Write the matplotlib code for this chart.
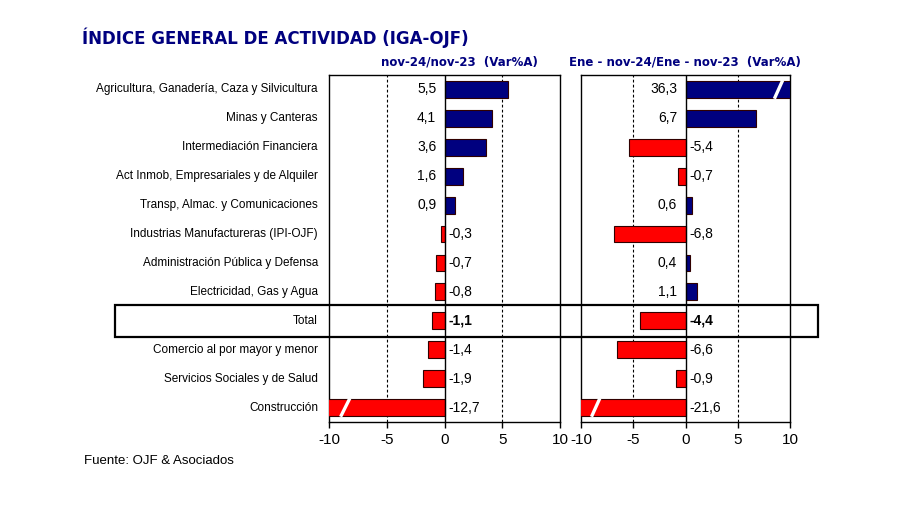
import matplotlib.pyplot as plt
import numpy as np
from matplotlib.patches import Rectangle

plt.rcParams['font.family'] = ['Liberation Sans', 'DejaVu Sans']

# data
sectores = ["Agricultura, Ganadería, Caza y Silvicultura", "Minas y Canteras",
            "Intermediación Financiera", "Act Inmob, Empresariales y de Alquiler",
            "Transp, Almac. y Comunicaciones", "Industrias Manufactureras (IPI-OJF)",
            "Administración Pública y Defensa", "Electricidad, Gas y Agua", "Total",
            "Comercio al por mayor y menor", "Servicios Sociales y de Salud", "Construcción"]
var_interanual = [5.5, 4.1, 3.6, 1.6, 0.9, -0.3, -0.7, -0.8, -1.1, -1.4, -1.9, -12.7]
var_acumulada = [36.3, 6.7, -5.4, -0.7, 0.6, -6.8, 0.4, 1.1, -4.4, -6.6, -0.9, -21.6]
xticks = [-10, -5, 0, 5, 10]

navy = '#00007F'
red = '#FF0000'
lim = 10

fig = plt.figure(figsize=(9, 5.05), dpi=100)
ax1 = fig.add_axes([0.3656, 0.1644, 0.2567, 0.687])
ax2 = fig.add_axes([0.6456, 0.1644, 0.2322, 0.687])

y = np.arange(len(sectores))


def panel(ax, vals):
    vals = np.array(vals)
    colors = [navy if v >= 0 else red for v in vals]
    ax.barh(y, vals, height=0.58, color=colors, edgecolor='#300000', linewidth=0.8, zorder=3)
    ax.set_xlim(-lim, lim)
    ax.set_ylim(len(sectores) - 0.5, -0.5)
    ax.set_xticks(xticks)
    ax.set_xticklabels([str(t) for t in xticks], fontsize=11)
    ax.tick_params(axis='x', length=4, width=1, pad=4)
    ax.set_yticks([])
    for v in [-5, 5]:
        ax.axvline(v, color='black', ls=(0, (2.5, 2)), lw=0.8, zorder=1)
    ax.axvline(0, color='black', lw=1, zorder=4)
    for s in ax.spines.values():
        s.set_linewidth(1)
    # break marks on bars beyond the axis
    for yi, v in zip(y, vals):
        if abs(v) > lim:
            xb = 8.9 if v > 0 else -8.6
            ax.plot([xb - 0.4, xb + 0.4], [yi + 0.32, yi - 0.32],
                    color='white', lw=2.4, zorder=5, solid_capstyle='butt')
    # value labels
    for yi, v in zip(y, vals):
        txt = f'{v:.1f}'.replace('.', ',')
        weight = 'bold' if sectores[yi] == 'Total' else 'normal'
        if v >= 0:
            ax.annotate(txt, (0, yi), xytext=(-6, 0), textcoords='offset points',
                        ha='right', va='center', fontsize=10, fontweight=weight, zorder=6)
        else:
            ax.annotate(txt, (0, yi), xytext=(3, 0), textcoords='offset points',
                        ha='left', va='center', fontsize=10, fontweight=weight, zorder=6)


panel(ax1, var_interanual)
panel(ax2, var_acumulada)

# category labels
for yi, name in zip(y, sectores):
    ax1.annotate(name, (0, yi), xycoords=('axes fraction', 'data'), xytext=(-8, 0),
                 textcoords='offset points', ha='right', va='center', fontsize=8.5)

# box around Total row
fig.add_artist(Rectangle((115 / 900, 1 - 337 / 505), (818 - 115) / 900, 32 / 505,
                         transform=fig.transFigure, fill=False, edgecolor='black',
                         linewidth=1.6, zorder=10))

fig.text(82 / 900, 1 - 38 / 505, 'ÍNDICE GENERAL DE ACTIVIDAD (IGA-OJF)', family='DejaVu Sans',
         fontsize=12, fontweight='bold', color=navy, va='center')
fig.text(459 / 900, 1 - 62 / 505, 'nov-24/nov-23  (Var%A)', family='DejaVu Sans',
         fontsize=8.5, fontweight='bold', color=navy, va='center', ha='center')
fig.text(685 / 900, 1 - 62 / 505, 'Ene - nov-24/Ene - nov-23  (Var%A)', family='DejaVu Sans',
         fontsize=8.5, fontweight='bold', color=navy, va='center', ha='center')
fig.text(84 / 900, 1 - 461 / 505, 'Fuente: OJF & Asociados', fontsize=9.5, va='center')

fig.savefig('out.png', dpi=100)
